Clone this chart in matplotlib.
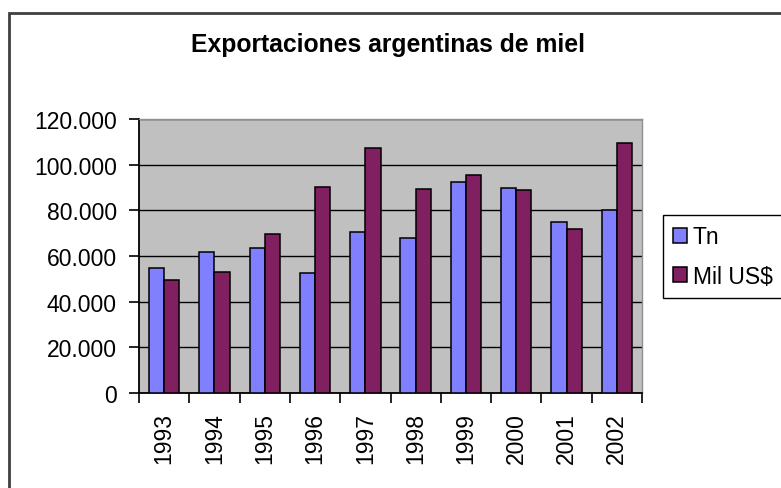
import matplotlib
matplotlib.use("Agg")
import matplotlib.pyplot as plt
import matplotlib.patches as patches
from matplotlib.ticker import FuncFormatter, MultipleLocator
import numpy as np

years = ['1993', '1994', '1995', '1996', '1997', '1998', '1999', '2000', '2001', '2002']
tn = [54700, 61900, 63500, 52400, 70500, 68000, 92600, 89900, 74900, 80000]
mil_usd = [49600, 53100, 69800, 90100, 107500, 89200, 95300, 89100, 71700, 109300]

plt.rcParams['font.family'] = ['Liberation Sans', 'DejaVu Sans']

fig = plt.figure(figsize=(7.81, 4.89), dpi=100)
ax = fig.add_axes([139/781, 1-394/489, 503/781, 274/489])

x = np.arange(len(years))
w = 1/3.3
ax.bar(x - w/2, tn, w, color='#8080ff', edgecolor='black', linewidth=1.1, label='Tn', zorder=3)
ax.bar(x + w/2, mil_usd, w, color='#802060', edgecolor='black', linewidth=1.1, label='Mil US$', zorder=3)

ax.set_facecolor('#c0c0c0')
ax.set_xlim(-0.5, len(years) - 0.5)
ax.set_ylim(0, 120000)
ax.yaxis.set_major_locator(MultipleLocator(20000))
ax.yaxis.set_major_formatter(FuncFormatter(lambda v, p: f"{int(v):,}".replace(',', '.')))
ax.grid(axis='y', color='black', linewidth=1, zorder=1)

ax.set_xticks(x)
ax.set_xticklabels(years, rotation=90)
ax.set_xticks(np.arange(-0.5, len(years)), minor=True)
ax.tick_params(axis='x', which='major', length=0, pad=14, labelsize=16.5, colors='black')
ax.tick_params(axis='x', which='minor', length=7, width=1.2, direction='out')
ax.tick_params(axis='y', length=7, width=1.2, pad=9, labelsize=16.5)

for s in ['top', 'right']:
    ax.spines[s].set_color('#909090')
    ax.spines[s].set_linewidth(1)
ax.spines['left'].set_linewidth(1.3)
ax.spines['bottom'].set_linewidth(1.3)

fig.text(388/781, 1-45/489, 'Exportaciones argentinas de miel', ha='center', va='center',
         fontsize=17.8, fontweight='bold')

fig.legend(loc='center left', bbox_to_anchor=(663/781, 1-257.5/489), fontsize=16.5,
           frameon=True, fancybox=False, edgecolor='black', framealpha=1,
           handlelength=0.6, handleheight=0.6, handletextpad=0.25, labelspacing=0.7,
           borderpad=0.45, borderaxespad=0)

fig.patches.append(patches.Rectangle((9/781, -0.1), 1.1, 1 - 14/489 + 0.1, transform=fig.transFigure,
                                     fill=False, edgecolor='#404040', linewidth=2))

fig.savefig('out.png', dpi=100)
